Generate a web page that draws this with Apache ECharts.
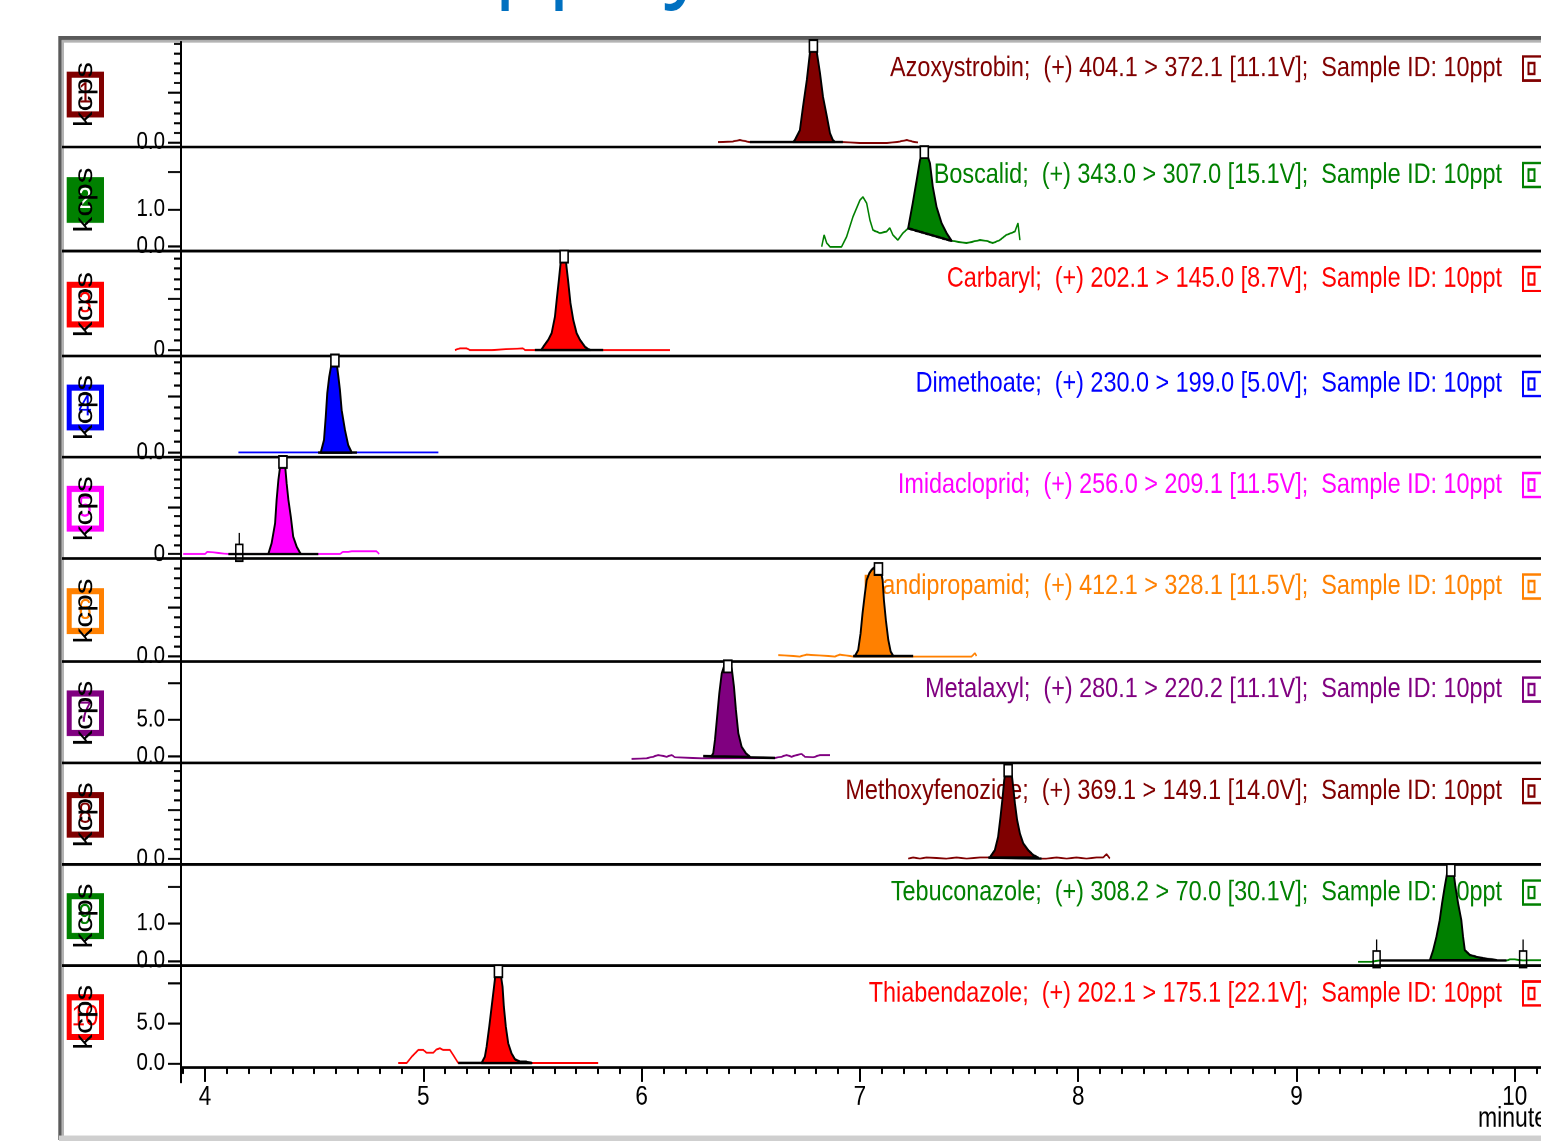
<!DOCTYPE html>
<html><head><meta charset="utf-8">
<script src="https://cdn.jsdelivr.net/npm/echarts@6/dist/echarts.min.js"></script>
<style>
html,body{margin:0;padding:0;overflow:hidden;background:#fff;width:1541px;height:1141px;}
#wrap{position:relative;width:1541px;height:1141px;overflow:hidden;}
#chart{position:absolute;left:0;top:0;width:1541px;height:935px;transform:scaleY(1.22);transform-origin:0 0;}
</style></head><body><div id="wrap"><div id="chart"></div></div>
<script>
// ---------------- DATA ----------------
const names = ['Azoxystrobin','Boscalid','Carbaryl','Dimethoate','Imidacloprid','Mandipropamid','Metalaxyl','Methoxyfenozide','Tebuconazole','Thiabendazole'];
const transitions = ['(+) 404.1 > 372.1 [11.1V]','(+) 343.0 > 307.0 [15.1V]','(+) 202.1 > 145.0 [8.7V]','(+) 230.0 > 199.0 [5.0V]','(+) 256.0 > 209.1 [11.5V]','(+) 412.1 > 328.1 [11.5V]','(+) 280.1 > 220.2 [11.1V]','(+) 369.1 > 149.1 [14.0V]','(+) 308.2 > 70.0 [30.1V]','(+) 202.1 > 175.1 [22.1V]'];
const sampleId = '10ppt';
const panelNumbers = ['1','2','3','4','5','6','7','8','9','10'];
const colors = ['#800000','#008000','#ff0000','#0000ff','#ff00ff','#ff8000','#800080','#800000','#008000','#ff0000'];
const headerFragments = ['pp', 'y'];

const xRange = [3.89, 10.12];
const xMajorTicks = [4,5,6,7,8,9,10];
const xTickLabels = ['4','5','6','7','8','9','10'];
const xUnit = 'minutes';
const yUnit = 'kcps';

const yMax = [2.04, 2.64, 19.1, 1.68, 20.3, 1.96, 12.6, 1.92, 2.55, 12.0];
const yMajor = [[0,1],[0,1,2],[0,10],[0,1],[0,10],[0,1],[0,5,10],[0,1],[0,1,2],[0,5,10]];
const yMinor = [
  [0.2,0.4,0.6,0.8,1.2,1.4,1.6,1.8,2.0], [], [2,4,6,8,12,14,16,18],
  [0.2,0.4,0.6,0.8,1.2,1.4,1.6], [2,4,6,8,12,14,16,18,20],
  [0.2,0.4,0.6,0.8,1.2,1.4,1.6,1.8], [], [0.2,0.4,0.6,0.8,1.2,1.4,1.6,1.8], [], []
];
const yLabelValues = [[0],[0,1],[0],[0],[0],[0],[0,5],[0],[0,1],[0,5]];
const yLabelTexts  = [['0.0'],['0.0','1.0'],['0'],['0.0'],['0'],['0.0'],['0.0','5.0'],['0.0'],['0.0','1.0'],['0.0','5.0']];

const azoTrace = [[6.350,0.00],[6.418,0.01],[6.450,0.04],[6.482,0.01],[6.496,0.00],[6.922,0.00],[6.931,-0.01],[7.000,-0.02],[7.124,-0.02],[7.183,0.01],[7.215,0.04],[7.240,0.01],[7.266,-0.01]];
const azoPeak = [[6.695,0.00],[6.702,0.04],[6.725,0.24],[6.739,0.71],[6.757,1.27],[6.771,1.82],[6.780,1.98],[6.787,2.02],[6.794,1.98],[6.803,1.82],[6.817,1.41],[6.831,0.92],[6.849,0.51],[6.863,0.18],[6.876,0.04],[6.885,0.00]];
const azoBase = [[6.496,0.00],[6.922,0.00]];

const boscTrace = [[6.825,-0.02],[6.836,0.30],[6.848,0.08],[6.863,-0.02],[6.916,-0.02],[6.939,0.25],[6.968,0.79],[7.000,1.24],[7.014,1.33],[7.031,1.16],[7.046,0.70],[7.060,0.43],[7.092,0.35],[7.122,0.39],[7.137,0.49],[7.151,0.30],[7.174,0.16],[7.197,0.35],[7.221,0.48],[7.420,0.14],[7.426,0.12],[7.488,0.08],[7.550,0.16],[7.580,0.14],[7.609,0.08],[7.641,0.16],[7.671,0.30],[7.710,0.39],[7.724,0.62],[7.733,0.16]];
const boscPeak = [[7.221,0.48],[7.242,1.16],[7.260,1.78],[7.275,2.32],[7.287,2.58],[7.295,2.62],[7.302,2.58],[7.321,2.24],[7.334,1.60],[7.351,1.06],[7.374,0.62],[7.397,0.35],[7.420,0.14]];
const boscBase = [[7.221,0.48],[7.420,0.14]];

const carbTrace = [[5.145,0.00],[5.168,0.33],[5.198,0.33],[5.214,0.00],[5.313,0.00],[5.319,0.33],[5.456,0.33],[5.466,0.00],[5.931,0.00],[5.939,0.45],[5.947,0.00],[6.130,0.00]];
const carbPeak = [[5.540,0.00],[5.550,0.65],[5.572,1.96],[5.588,3.33],[5.603,6.53],[5.611,9.80],[5.621,13.7],[5.629,17.1],[5.638,18.6],[5.645,18.9],[5.651,18.6],[5.656,16.3],[5.663,13.7],[5.674,9.2],[5.687,5.88],[5.702,3.33],[5.718,1.96],[5.740,0.65],[5.756,0.14],[5.765,0.00]];
const carbBase = [[5.511,0.00],[5.824,0.00]];

const dimeTrace = [[4.153,0.00],[5.069,0.00]];
const dimePeak = [[4.530,0.00],[4.545,0.22],[4.553,0.63],[4.560,1.05],[4.569,1.34],[4.580,1.58],[4.588,1.66],[4.595,1.68],[4.603,1.58],[4.611,1.34],[4.618,1.11],[4.626,0.75],[4.641,0.40],[4.656,0.13],[4.672,0.00]];
const dimeBase = [[4.518,0.00],[4.696,0.00]];

const imidTrace = [[3.900,0.00],[4.000,0.00],[4.011,0.49],[4.020,0.00],[4.107,0.00],[4.519,0.00],[4.618,0.00],[4.633,0.49],[4.656,0.49],[4.664,0.15],[4.672,0.57],[4.786,0.57],[4.798,0.00]];
const imidPeak = [[4.290,0.00],[4.305,2.28],[4.321,6.53],[4.328,11.5],[4.336,15.7],[4.344,18.6],[4.351,20.1],[4.357,20.2],[4.366,19.3],[4.374,15.0],[4.382,11.5],[4.393,7.94],[4.404,3.68],[4.420,1.55],[4.435,0.28],[4.440,0.00]];
const imidBase = [[4.107,0.00],[4.519,0.00]];
const imidEvents = [4.157];

const mandTrace = [[6.626,0.02],[6.634,-0.01],[6.725,-0.01],[6.733,0.03],[6.756,0.03],[6.763,-0.01],[6.886,-0.01],[6.893,0.03],[6.908,0.03],[6.916,-0.01],[6.969,-0.01],[7.244,-0.01],[7.512,-0.01],[7.527,0.06],[7.534,0.00]];
const mandPeak = [[6.977,0.00],[6.992,0.12],[7.003,0.46],[7.012,0.87],[7.023,1.28],[7.031,1.55],[7.043,1.69],[7.054,1.76],[7.061,1.79],[7.073,1.83],[7.085,1.84],[7.092,1.83],[7.104,1.55],[7.110,1.14],[7.119,0.73],[7.130,0.33],[7.141,0.09],[7.153,0.00]];
const mandBase = [[6.969,0.00],[7.244,0.00]];

const metaTrace = [[5.954,-0.34],[6.023,-0.24],[6.030,-0.03],[6.053,-0.03],[6.061,0.20],[6.076,0.20],[6.084,-0.03],[6.115,-0.03],[6.122,0.20],[6.138,0.20],[6.153,-0.11],[6.275,-0.24],[6.282,0.05],[6.611,-0.20],[6.641,-0.03],[6.664,0.20],[6.687,-0.03],[6.710,0.20],[6.733,0.34],[6.748,-0.03],[6.786,-0.11],[6.817,0.20],[6.863,0.20]];
const metaPeak = [[6.320,0.02],[6.328,0.43],[6.336,2.23],[6.346,5.38],[6.356,8.54],[6.367,11.2],[6.377,12.1],[6.389,12.5],[6.395,12.55],[6.400,12.5],[6.412,12.1],[6.423,9.43],[6.432,6.28],[6.443,3.14],[6.458,1.32],[6.478,0.43],[6.496,-0.03]];
const metaBase = [[6.282,0.05],[6.611,-0.20]];

const methTrace = [[7.221,0.00],[7.244,0.02],[7.275,0.00],[7.305,0.02],[7.351,0.01],[7.397,0.00],[7.443,0.02],[7.489,0.00],[7.550,0.02],[7.588,0.02],[7.832,0.00],[7.855,0.00],[7.901,0.02],[7.947,0.00],[7.992,0.02],[8.038,0.00],[8.084,0.02],[8.114,0.02],[8.130,0.09],[8.145,0.00]];
const methPeak = [[7.595,0.02],[7.618,0.17],[7.633,0.44],[7.644,0.85],[7.654,1.26],[7.661,1.60],[7.669,1.81],[7.679,1.86],[7.695,1.74],[7.702,1.47],[7.710,1.13],[7.720,0.79],[7.733,0.51],[7.748,0.31],[7.771,0.17],[7.794,0.07],[7.816,0.02]];
const methBase = [[7.588,0.02],[7.832,0.00]];

const tebuTrace = [[9.282,-0.03],[9.344,-0.03],[9.382,0.00],[9.962,0.00],[9.965,-0.03],[9.977,0.03],[10.000,0.03],[10.038,0.00],[10.069,0.01],[10.120,0.01]];
const tebuPeak = [[9.611,0.01],[9.626,0.28],[9.641,0.64],[9.656,1.09],[9.667,1.55],[9.679,1.99],[9.690,2.36],[9.698,2.50],[9.707,2.52],[9.720,2.36],[9.728,1.99],[9.740,1.55],[9.755,1.09],[9.763,0.64],[9.771,0.28],[9.794,0.15],[9.824,0.10],[9.855,0.06],[9.916,0.01]];
const tebuBase = [[9.382,0.00],[9.962,0.00]];
const tebuEvents = [9.367, 10.038];

const thiaTrace = [[4.885,0.00],[4.924,0.00],[4.947,0.79],[4.977,1.63],[5.000,1.63],[5.015,1.29],[5.046,1.29],[5.061,1.71],[5.076,1.84],[5.091,1.63],[5.122,1.63],[5.137,1.00],[5.160,0.00],[5.496,0.00],[5.801,0.00]];
const thiaPeak = [[5.267,0.00],[5.282,0.79],[5.290,2.04],[5.302,4.54],[5.313,7.04],[5.324,9.54],[5.331,11.2],[5.339,11.8],[5.344,11.85],[5.349,11.8],[5.354,11.2],[5.363,9.54],[5.369,7.04],[5.378,4.54],[5.389,2.46],[5.404,1.21],[5.420,0.46],[5.443,0.16],[5.473,0.16],[5.496,0.00]];
const thiaBase = [[5.160,0.00],[5.496,0.00]];

// ---------------- LAYOUT (page pixels, before vertical stretch) ----------------
const S = 1.22;
const px = v => v / S;
const sepY  = [40, 147, 251, 356, 457, 558.5, 661.5, 763, 864.5, 965.5, 1067];
const topY  = [42, 148.5, 252.5, 357.5, 458.5, 560, 663, 764.5, 866, 967];
const baseY = [142, 246, 350, 452.5, 554, 656, 756.5, 858.5, 960.5, 1063];
const FONT = "'Liberation Sans', Arial, sans-serif";

const panels = [
  {trace: azoTrace,  peak: azoPeak,  base: azoBase,  events: []},
  {trace: boscTrace, peak: boscPeak, base: boscBase, events: []},
  {trace: carbTrace, peak: carbPeak, base: carbBase, events: []},
  {trace: dimeTrace, peak: dimePeak, base: dimeBase, events: []},
  {trace: imidTrace, peak: imidPeak, base: imidBase, events: imidEvents},
  {trace: mandTrace, peak: mandPeak, base: mandBase, events: []},
  {trace: metaTrace, peak: metaPeak, base: metaBase, events: []},
  {trace: methTrace, peak: methPeak, base: methBase, events: []},
  {trace: tebuTrace, peak: tebuPeak, base: tebuBase, events: tebuEvents},
  {trace: thiaTrace, peak: thiaPeak, base: thiaBase, events: []}
];

const xMinorTicks = [];
for (let k = 39; k <= 101; k++) { if (k % 10 !== 0) xMinorTicks.push(k / 10); }

const grid = [], xAxis = [], yAxis = [], series = [], elements = [];

for (let i = 0; i < 10; i++) {
  grid.push({left: 181, right: 0, top: px(topY[i]), height: px(baseY[i] - topY[i])});
  const last = i === 9;
  xAxis.push({
    type: 'value', gridIndex: i, min: xRange[0], max: xRange[1], show: last,
    position: 'bottom', offset: last ? px(sepY[10] - baseY[9]) : 0,
    axisLine: {show: true, onZero: false, lineStyle: {color: '#000', width: 2}},
    axisTick: {show: true, customValues: xMajorTicks, length: px(15), lineStyle: {color: '#000', width: 2}},
    axisLabel: {show: true, customValues: xMajorTicks, formatter: v => xTickLabels[xMajorTicks.indexOf(v)],
      color: '#000', fontFamily: FONT, fontSize: 22.5, margin: 13},
    splitLine: {show: false}
  });
}
xAxis.push({
  type: 'value', gridIndex: 9, min: xRange[0], max: xRange[1], position: 'bottom', offset: px(sepY[10] - baseY[9]),
  axisLine: {show: false, onZero: false},
  axisTick: {show: true, customValues: xMinorTicks, length: px(7), lineStyle: {color: '#000', width: 2}},
  axisLabel: {show: false}, splitLine: {show: false}
});

for (let i = 0; i < 10; i++) {
  yAxis.push({
    type: 'value', gridIndex: i, min: 0, max: yMax[i], position: 'left',
    axisLine: {show: false},
    axisTick: {show: true, customValues: yMajor[i], length: 13, lineStyle: {color: '#000', width: 1.7}},
    axisLabel: {show: true, customValues: yLabelValues[i],
      formatter: v => { const k = yLabelValues[i].indexOf(v); return k >= 0 ? yLabelTexts[i][k] : ''; },
      color: '#000', fontFamily: FONT, fontSize: 20.5, margin: 16},
    splitLine: {show: false}
  });
  yAxis.push({
    type: 'value', gridIndex: i, min: 0, max: yMax[i], position: 'left',
    axisLine: {show: false},
    axisTick: {show: yMinor[i].length > 0, customValues: yMinor[i].length ? yMinor[i] : [0], length: 7, lineStyle: {color: '#000', width: 1.7}},
    axisLabel: {show: false}, splitLine: {show: false}
  });
}

for (let i = 0; i < 10; i++) {
  const p = panels[i], col = colors[i];
  series.push({type: 'line', xAxisIndex: i, yAxisIndex: 2 * i, data: p.trace, showSymbol: false, symbol: 'none',
    clip: false, silent: true, lineStyle: {color: col, width: 1.5}, z: 2});
  series.push({type: 'line', xAxisIndex: i, yAxisIndex: 2 * i, data: p.base, showSymbol: false, symbol: 'none',
    clip: false, silent: true, lineStyle: {color: '#000', width: 2}, z: 3});
  const peak = p.peak;
  let apexIdx = 0;
  peak.forEach((q, j) => { if (q[1] > peak[apexIdx][1]) apexIdx = j; });
  series.push({type: 'custom', xAxisIndex: i, yAxisIndex: 2 * i, data: peak, silent: true, z: 4,
    encode: {x: 0, y: 1},
    renderItem: (params, api) => {
      if (params.dataIndex === 0) {
        const pts = peak.map(q => api.coord(q));
        return {type: 'polygon', shape: {points: pts}, style: {fill: col, stroke: '#000', lineWidth: 1.9, lineJoin: 'round'}};
      }
      if (params.dataIndex === apexIdx) {
        const a = api.coord([api.value(0), api.value(1)]);
        return {type: 'rect', shape: {x: a[0] - 4, y: a[1] - px(3), width: 8, height: px(12)},
          style: {fill: '#fff', stroke: '#000', lineWidth: 1.6}};
      }
      return null;
    }
  });
  if (p.events.length) {
    series.push({type: 'custom', xAxisIndex: i, yAxisIndex: 2 * i, data: p.events.map(t => [t, 0]), silent: true, z: 5,
      encode: {x: 0, y: 1},
      renderItem: (params, api) => {
        const c = api.coord([api.value(0), api.value(1)]);
        return {type: 'group', children: [
          {type: 'line', shape: {x1: c[0], y1: c[1] - px(21), x2: c[0], y2: c[1] - px(9.5)}, style: {stroke: '#000', lineWidth: 1.3}},
          {type: 'rect', shape: {x: c[0] - 3.5, y: c[1] - px(9.5), width: 7, height: px(16.5)}, style: {fill: 'none', stroke: '#000', lineWidth: 1.5}}
        ]};
      }
    });
  }
}

// ---------- decorations ----------
elements.push({type: 'text', x: 494, y: -37, z: 1, silent: true,
  style: {text: headerFragments[0], fill: '#0070c0', fontSize: 88, fontFamily: "'Open Sans', sans-serif", align: 'left', verticalAlign: 'middle', textAlign: 'left', textVerticalAlign: 'middle'}});
elements.push({type: 'text', x: 664, y: -37, z: 1, silent: true,
  style: {text: headerFragments[1], fill: '#0070c0', fontSize: 88, fontFamily: "'Open Sans', sans-serif", align: 'left', verticalAlign: 'middle', textAlign: 'left', textVerticalAlign: 'middle'}});
elements.push({type: 'rect', z: 1, silent: true, shape: {x: 60, y: px(38), width: 1600, height: px(1100)},
  style: {fill: 'none', stroke: '#5a5a5a', lineWidth: 3.4}});
elements.push({type: 'line', z: 1, silent: true, shape: {x1: 63, y1: px(40.5), x2: 63, y2: px(1136)}, style: {stroke: '#b4b4b4', lineWidth: 2}});
elements.push({type: 'line', z: 1, silent: true, shape: {x1: 62, y1: px(41.3), x2: 1545, y2: px(41.3)}, style: {stroke: '#b4b4b4', lineWidth: 2}});
elements.push({type: 'rect', z: 1, silent: true, shape: {x: 59, y: px(1135.5), width: 1500, height: px(6)}, style: {fill: '#cfcfcf'}});
for (let i = 1; i <= 9; i++) {
  elements.push({type: 'line', z: 1, silent: true, shape: {x1: 62, y1: px(sepY[i]), x2: 1545, y2: px(sepY[i])}, style: {stroke: '#000', lineWidth: 2.2}});
}
elements.push({type: 'line', z: 6, silent: true, shape: {x1: 181, y1: px(41), x2: 181, y2: px(1083)}, style: {stroke: '#000', lineWidth: 2}});

for (let i = 0; i < 10; i++) {
  const col = colors[i];
  const ty = topY[i] + 26.5;
  elements.push({type: 'text', x: 1502, y: px(ty), z: 1, silent: true,
    style: {text: names[i] + ';  ' + transitions[i] + ';  Sample ID: ' + sampleId, fill: col, fontSize: 23.4, fontFamily: FONT,
      align: 'right', verticalAlign: 'middle', textAlign: 'right', textVerticalAlign: 'middle'}});
  elements.push({type: 'rect', z: 1, silent: true, shape: {x: 1523, y: px(ty - 12), width: 20, height: px(24)}, style: {fill: 'none', stroke: col, lineWidth: 2}});
  elements.push({type: 'rect', z: 1, silent: true, shape: {x: 1528.5, y: px(ty - 5.5), width: 6, height: px(11)}, style: {fill: 'none', stroke: col, lineWidth: 2}});
  const cy = (sepY[i] + sepY[i + 1]) / 2 + 1;
  const filled = i === 1;
  elements.push({type: 'rect', z: 1, silent: true, shape: {x: 69.2, y: px(cy) - 16.25, width: 32.3, height: 32.5},
    style: {fill: filled ? col : '#fff', stroke: col, lineWidth: 5}});
  elements.push({type: 'text', x: 85, y: px(cy), z: 1, silent: true,
    style: {text: panelNumbers[i], fill: filled ? '#fff' : col, fontSize: 24, fontFamily: FONT,
      align: 'center', verticalAlign: 'middle', textAlign: 'center', textVerticalAlign: 'middle'}});
  elements.push({type: 'text', x: 85, y: px(cy), rotation: Math.PI / 2, z: 1, silent: true,
    style: {text: yUnit, fill: '#000', fontSize: 26, fontFamily: FONT,
      align: 'center', verticalAlign: 'middle', textAlign: 'center', textVerticalAlign: 'middle'}});
}
elements.push({type: 'text', x: 1478, y: px(1119), z: 1, silent: true,
  style: {text: xUnit, fill: '#000', fontSize: 23, fontFamily: FONT, align: 'left', verticalAlign: 'middle', textAlign: 'left', textVerticalAlign: 'middle'}});

const chart = echarts.init(document.getElementById('chart'), null, {renderer: 'canvas', devicePixelRatio: 2});
chart.setOption({
  animation: false,
  backgroundColor: '#fff',
  grid, xAxis, yAxis, series,
  graphic: {elements}
});
</script></body></html>
